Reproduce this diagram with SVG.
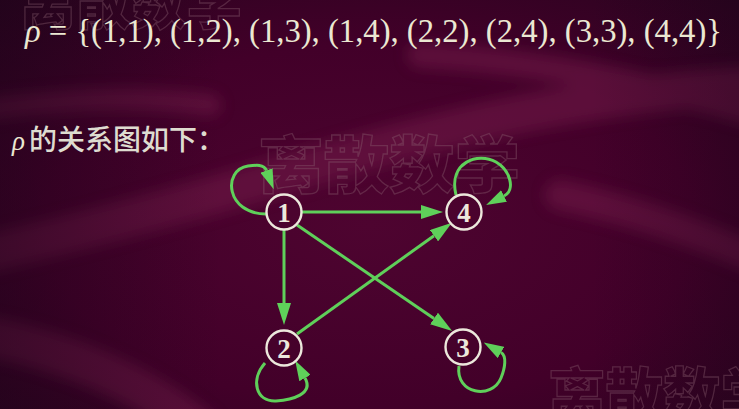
<svg xmlns="http://www.w3.org/2000/svg" width="739" height="409" viewBox="0 0 739 409">
<defs>
<radialGradient id="bg" cx="0.5" cy="0.55" r="0.8">
<stop offset="0" stop-color="#4e0430"/>
<stop offset="0.55" stop-color="#420029"/>
<stop offset="1" stop-color="#26041d"/>
</radialGradient>
<linearGradient id="shade" x1="0" y1="0" x2="1" y2="0">
<stop offset="0" stop-color="#1a0418" stop-opacity="0.45"/>
<stop offset="0.3" stop-color="#1a0418" stop-opacity="0"/>
<stop offset="0.8" stop-color="#1a0418" stop-opacity="0"/>
<stop offset="1" stop-color="#1a0418" stop-opacity="0.3"/>
</linearGradient>
<filter id="soft" x="-10%" y="-30%" width="120%" height="160%">
<feGaussianBlur stdDeviation="7"/>
</filter>
<marker id="ah" viewBox="0 0 22 14" refX="0" refY="7" markerWidth="22" markerHeight="14" markerUnits="userSpaceOnUse" orient="auto">
<path d="M0,0 L22,7 L0,14 Z" fill="#5fd05a"/>
</marker>
<marker id="ahs" viewBox="0 0 20 13" refX="0" refY="6.5" markerWidth="20" markerHeight="13" markerUnits="userSpaceOnUse" orient="auto">
<path d="M0,0 L20,6.5 L0,13 Z" fill="#5fd05a"/>
</marker>
</defs>
<style>
.band{fill:none;stroke:#761a4c;stroke-linecap:round}
.wm{font-family:"Noto Sans CJK SC",sans-serif;font-weight:900;fill:none;stroke:#8c6272;stroke-width:1.3;stroke-opacity:0.38}
.tx{font-family:"Liberation Serif",serif;fill:#ebe8d2}
.cn{font-family:"Noto Sans CJK SC",sans-serif;fill:#dedcd0}
.edge{fill:none;stroke:#5fd05a;stroke-width:3}
.nd circle{fill:none;stroke:#ece8dc;stroke-width:2.4}
.nd text{font-family:"Liberation Serif",serif;font-weight:bold;font-size:27px;fill:#ece8dc;text-anchor:middle}
</style>
<rect width="739" height="409" fill="url(#bg)"/>
<g id="background-bands" opacity="0.5" filter="url(#soft)">
<path class="band" stroke-width="38" d="M-20,255 C 90,230 200,200 300,170 C 420,135 560,95 760,85"/>
<path class="band" stroke-width="26" d="M420,55 C 520,60 640,80 760,115"/>
<path class="band" stroke-width="40" d="M-20,335 C 60,350 140,380 200,430"/>
<path class="band" stroke-width="30" d="M560,195 C 630,210 690,230 760,260"/>
<path class="band" stroke-width="22" d="M-20,110 C 60,100 130,95 210,105"/>
</g>
<rect width="739" height="409" fill="url(#shade)"/>
<g id="watermarks">
<text class="wm" x="20" y="24" font-size="56" textLength="222" lengthAdjust="spacingAndGlyphs">离散数学</text>
<text class="wm" x="258" y="188" font-size="62" textLength="262" lengthAdjust="spacingAndGlyphs">离散数学</text>
<text class="wm" x="548" y="418" font-size="60" textLength="230" lengthAdjust="spacingAndGlyphs">离散数学</text>
</g>
<g id="formula">
<text class="tx" x="25" y="42" font-size="33" textLength="697" lengthAdjust="spacingAndGlyphs"><tspan font-style="italic">ρ</tspan> = {(1,1), (1,2), (1,3), (1,4), (2,2), (2,4), (3,3), (4,4)}</text>
</g>
<g id="caption">
<text x="12" y="150"><tspan class="tx" font-style="italic" font-size="27" fill="#dedcd0">ρ</tspan><tspan class="cn" font-size="28" font-weight="500" x="29">的关系图如下：</tspan></text>
</g>
<g id="connectors">
<line class="edge" x1="301" y1="212" x2="421" y2="212" marker-end="url(#ah)"/>
<line class="edge" x1="284" y1="230" x2="284" y2="303" marker-end="url(#ah)"/>
<line class="edge" x1="297" y1="225" x2="434" y2="318.5" marker-end="url(#ah)"/>
<line class="edge" x1="297" y1="334" x2="434" y2="235.7" marker-end="url(#ah)"/>
<path class="edge" d="M266,214 C 226,214 222,170 248,166 C 256,165 264,164 266.5,170.5" marker-end="url(#ahs)"/>
<path class="edge" d="M456,195 C 448,162 478,152 496,162 C 510,170 516,190 504,196" marker-end="url(#ahs)"/>
<path class="edge" d="M265,363 C 250,380 256,402 276,401 C 292,400 314,394 305,378" marker-end="url(#ahs)"/>
<path class="edge" d="M459,366 C 455,394 492,400 501,378 C 505,368 507,356 501,352.5" marker-end="url(#ahs)"/>
</g>
<g id="node1" class="nd"><circle cx="284" cy="212" r="17.5"/><text x="284" y="221.5">1</text></g>
<g id="node2" class="nd"><circle cx="284" cy="348" r="17.5"/><text x="284" y="357.5">2</text></g>
<g id="node3" class="nd"><circle cx="463" cy="347" r="17.5"/><text x="463" y="356.5">3</text></g>
<g id="node4" class="nd"><circle cx="464" cy="212" r="17.5"/><text x="464" y="221.5">4</text></g>
</svg>
